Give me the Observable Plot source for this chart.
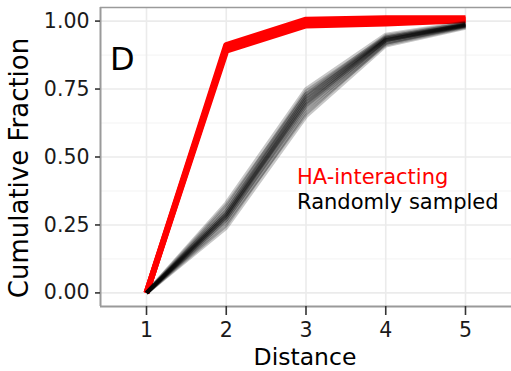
<!DOCTYPE html>
<html><head><meta charset="utf-8">
<script src="https://cdn.jsdelivr.net/npm/d3@7"></script>
<script src="https://cdn.jsdelivr.net/npm/@observablehq/plot@0.6"></script>
<style>body{margin:0;background:#fff} svg{display:block}</style>
</head><body><div id="chart"></div>
<script>
const distances = [1, 2, 3, 4, 5];
const xTicks = [1, 2, 3, 4, 5];
const yTicks = [0, 0.25, 0.5, 0.75, 1];
const yMinor = [0.125, 0.375, 0.625, 0.875];
const haLabel = "HA-interacting";
const randLabel = "Randomly sampled";
const panelTag = "D";
const xTitle = "Distance";
const yTitle = "Cumulative Fraction";

// HA-interacting (red), a few overlapping estimates
const haInteracting = [
  [0, 0.912, 1.005, 1.010, 1.010],
  [0, 0.901, 0.995, 1.000, 1.006],
  [0, 0.891, 0.984, 0.991, 1.003]
];
// Randomly sampled replicates (black, translucent)
const randomlySampled = [
  [0, 0.240, 0.650, 0.910, 0.975],
  [0, 0.250, 0.670, 0.915, 0.978],
  [0, 0.260, 0.660, 0.920, 0.980],
  [0, 0.270, 0.690, 0.925, 0.982],
  [0, 0.270, 0.680, 0.920, 0.983],
  [0, 0.280, 0.700, 0.930, 0.985],
  [0, 0.280, 0.690, 0.930, 0.984],
  [0, 0.280, 0.710, 0.935, 0.986],
  [0, 0.290, 0.700, 0.930, 0.985],
  [0, 0.290, 0.720, 0.935, 0.987],
  [0, 0.290, 0.710, 0.930, 0.988],
  [0, 0.300, 0.720, 0.940, 0.990],
  [0, 0.300, 0.730, 0.935, 0.986],
  [0, 0.310, 0.740, 0.940, 0.990],
  [0, 0.320, 0.730, 0.945, 0.992],
  [0, 0.330, 0.750, 0.950, 0.995]
];

const toRows = (series) => series.flatMap((vals, i) => vals.map((v, j) => ({rep: i, x: distances[j], y: v})));
const redRows = toRows(haInteracting);
const blackRows = toRows(randomlySampled);

const X0 = 0.423, X1 = 5.577, Y0 = -0.05, Y1 = 1.05;
const ff = "DejaVu Sans, Verdana, sans-serif";

const chart = Plot.plot({
  width: 511, height: 371,
  marginLeft: 100, marginRight: 0, marginTop: 7, marginBottom: 65,
  x: {domain: [X0, X1]},
  y: {domain: [Y0, Y1]},
  style: {fontFamily: ff, fontSize: "20.5px", color: "#1a1a1a", background: "#fff"},
  marks: [
    Plot.ruleY(yMinor, {stroke: "#f3f3f3", strokeWidth: 1}),
    Plot.ruleY(yTicks, {stroke: "#ebebeb", strokeWidth: 1.6}),
    Plot.ruleX(xTicks, {stroke: "#ebebeb", strokeWidth: 1.6}),
    Plot.line(redRows, {x: "x", y: "y", z: "rep", stroke: "#ff0000", strokeWidth: 6, strokeLinecap: "butt", strokeLinejoin: "round"}),
    Plot.line(blackRows, {x: "x", y: "y", z: "rep", stroke: "#000", strokeOpacity: 0.22, strokeWidth: 4, strokeLinecap: "butt", strokeLinejoin: "round"}),
    Plot.ruleX([X0], {stroke: "#9a9a9a", strokeWidth: 2}),
    Plot.ruleY([Y0], {stroke: "#9a9a9a", strokeWidth: 2}),
    Plot.ruleY([Y1], {stroke: "#9a9a9a", strokeWidth: 1.5}),
    Plot.axisX({ticks: xTicks, tickSize: 9, tickPadding: 7, tickFormat: d => String(d), label: null, strokeWidth: 1.6, stroke: "#333", fontSize: 20.5, fill: "#1a1a1a"}),
    Plot.axisY({ticks: yTicks, tickSize: 5, tickPadding: 6, tickFormat: d3.format(".2f"), label: null, strokeWidth: 1.6, stroke: "#333", fontSize: 20.5, fill: "#1a1a1a"})
  ]
});

document.getElementById("chart").append(chart);
const svg = d3.select(chart);
svg.append("text").attr("x", 305).attr("y", 365).attr("text-anchor", "middle")
  .attr("font-family", ff).attr("font-size", 23.5).attr("fill", "#000").text(xTitle);
svg.append("text").attr("transform", "translate(28,168) rotate(-90)").attr("text-anchor", "middle")
  .attr("font-family", ff).attr("font-size", 26).attr("fill", "#000").text(yTitle);
svg.append("text").attr("x", 110).attr("y", 70).attr("text-anchor", "start")
  .attr("font-family", ff).attr("font-size", 32).attr("fill", "#000").text(panelTag);
svg.append("text").attr("x", 297).attr("y", 183.5).attr("text-anchor", "start")
  .attr("font-family", ff).attr("font-size", 21).attr("fill", "#ff0000").text(haLabel);
svg.append("text").attr("x", 297).attr("y", 208.5).attr("text-anchor", "start")
  .attr("font-family", ff).attr("font-size", 21).attr("fill", "#000").text(randLabel);
</script>
</body></html>
